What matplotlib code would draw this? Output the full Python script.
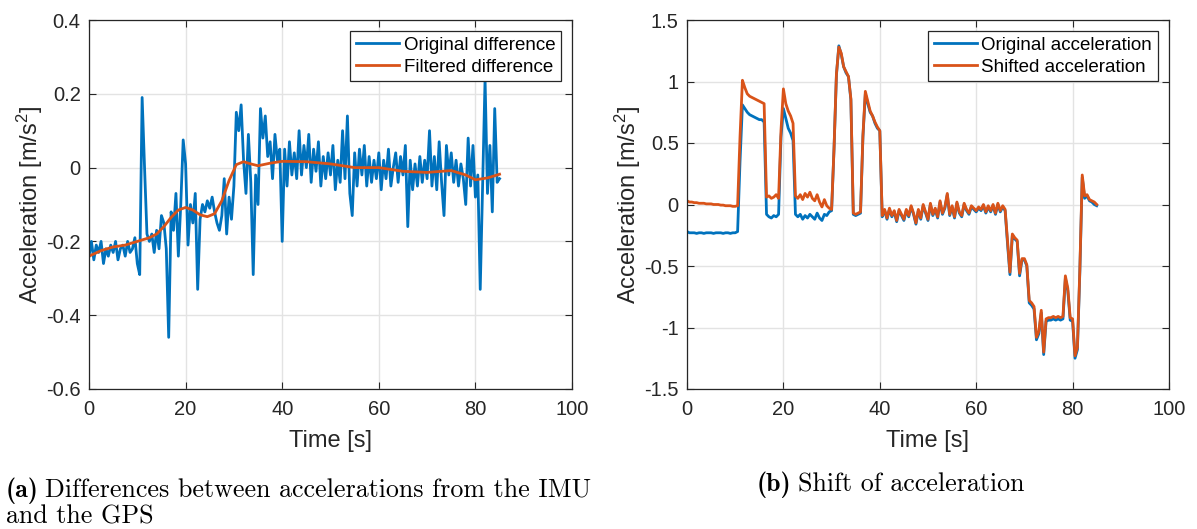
import numpy as np
import matplotlib
matplotlib.use('Agg')
import matplotlib.pyplot as plt
from matplotlib.ticker import FuncFormatter

# ── 字体 / 样式 ──
plt.rcParams['font.family'] = ['Liberation Sans', 'DejaVu Sans']
plt.rcParams['mathtext.fontset'] = 'custom'
plt.rcParams['mathtext.rm'] = 'Liberation Sans'
plt.rcParams['mathtext.default'] = 'regular'
plt.rcParams['axes.unicode_minus'] = False

BLUE = '#0072BD'
ORANGE = '#D95319'
AX_COLOR = '#262626'
GRID_COLOR = '#e3e3e3'

# ══════════════════════════════════════════════
# 数据 (a): IMU 与 GPS 加速度之差
# ══════════════════════════════════════════════
t_diff = np.arange(0, 85.01, 0.5)
diff_orig = [
    -0.24, -0.20, -0.25, -0.21, -0.23, -0.20, -0.26, -0.22, -0.24, -0.21,
    -0.23, -0.20, -0.25, -0.22, -0.21, -0.24, -0.20, -0.23, -0.22, -0.19,
    -0.26, -0.29, 0.19, 0.00, -0.18, -0.20, -0.18, -0.23, -0.17, -0.22,
    -0.13, -0.15, -0.22, -0.46, -0.12, -0.17, -0.07, -0.24, -0.10, 0.075,
    0.01, -0.21, -0.10, -0.15, -0.07, -0.33, -0.14, -0.10, -0.12, -0.09,
    -0.11, -0.08, -0.12, -0.15, -0.17, -0.13, -0.03, -0.18, -0.08, -0.14,
    -0.05, 0.15, 0.10, 0.17, 0.02, -0.07, 0.09, -0.04, -0.29, -0.02,
    -0.10, 0.16, 0.08, 0.14, 0.03, 0.07, -0.03, 0.09, 0.02, 0.05,
    -0.20, 0.05, -0.05, 0.07, -0.02, 0.04, -0.03, 0.10, -0.02, 0.06,
    0.00, 0.09, -0.04, 0.05, -0.01, 0.07, -0.05, 0.03, -0.03, 0.04,
    -0.02, 0.06, -0.06, 0.02, -0.04, 0.10, -0.03, 0.14, -0.07, -0.13,
    0.04, -0.05, 0.05, -0.02, 0.06, -0.05, 0.03, -0.04, 0.02, -0.03,
    0.04, -0.06, 0.02, -0.03, 0.05, -0.05, 0.00, 0.04, -0.04, 0.03,
    -0.02, 0.06, -0.16, 0.02, -0.06, 0.01, -0.05, 0.03, -0.04, 0.02,
    -0.03, 0.10, -0.05, 0.03, -0.06, 0.07, -0.04, -0.13, 0.06, -0.02,
    0.04, -0.04, 0.02, -0.05, 0.01, -0.03, -0.10, 0.08, -0.05, 0.06,
    -0.08, -0.02, -0.33, -0.05, 0.24, -0.07, 0.06, -0.12, 0.16, -0.04, -0.03,
]

t_filt = [0, 2.5, 5, 7.5, 10, 12.5, 14, 15.5, 17, 18.5, 20, 21.5, 23, 24.5,
          26, 27.5, 29, 30.5, 32, 33.5, 35, 37.5, 40, 45, 50, 55, 60, 65,
          70, 75, 78, 80, 82.5, 85]
diff_filt = [-0.24, -0.225, -0.215, -0.21, -0.20, -0.19, -0.18, -0.16,
             -0.135, -0.115, -0.108, -0.115, -0.128, -0.133, -0.125, -0.09,
             -0.035, 0.008, 0.016, 0.01, 0.005, 0.012, 0.017, 0.016, 0.01,
             0.0, 0.0, -0.01, -0.013, -0.008, -0.02, -0.033, -0.028, -0.018]

# ══════════════════════════════════════════════
# 数据 (b): 原始 / 平移后的加速度
# ══════════════════════════════════════════════
t_acc = np.arange(0, 85.01, 0.5)
acc_orig = [
    -0.22, -0.23, -0.23, -0.23, -0.235, -0.23, -0.23, -0.235, -0.23, -0.23,
    -0.23, -0.235, -0.23, -0.23, -0.23, -0.235, -0.23, -0.23, -0.235, -0.23,
    -0.23, -0.22, 0.35, 0.81, 0.78, 0.75, 0.73, 0.72, 0.71, 0.70,
    0.69, 0.69, 0.67, -0.08, -0.10, -0.11, -0.09, -0.10, -0.08, 0.55,
    0.78, 0.70, 0.62, 0.58, 0.52, -0.08, -0.10, -0.08, -0.12, -0.09,
    -0.11, -0.08, -0.10, -0.12, -0.07, -0.11, -0.13, -0.08, -0.09, -0.06,
    -0.05, 0.45, 1.05, 1.29, 1.22, 1.12, 1.07, 1.04, 0.85, -0.08,
    -0.09, -0.08, -0.07, 0.55, 0.90, 0.82, 0.75, 0.72, 0.66, 0.62,
    0.60, -0.10, -0.05, -0.12, -0.04, -0.10, -0.06, -0.14, -0.05, -0.09,
    -0.13, -0.05, -0.10, -0.02, -0.08, -0.16, -0.05, -0.12, -0.01, -0.07,
    -0.13, 0.00, -0.09, -0.04, -0.11, 0.02, -0.08, -0.03, 0.08, -0.09,
    -0.02, -0.11, 0.01, -0.07, -0.10, 0.00, -0.05, -0.08, -0.02, -0.04,
    -0.06, -0.03, -0.05, -0.01, -0.07, -0.02, -0.06, -0.01, -0.08, 0.00,
    -0.06, -0.02, -0.05, -0.32, -0.57, -0.25, -0.28, -0.30, -0.58, -0.45,
    -0.45, -0.50, -0.80, -0.82, -0.85, -1.10, -1.05, -0.88, -1.22, -0.95,
    -0.94, -0.94, -0.93, -0.94, -0.93, -0.94, -0.93, -0.60, -0.70, -0.94,
    -0.95, -1.25, -1.18, -0.55, 0.22, 0.05, 0.07, 0.03, 0.02, 0.00, -0.01,
]
acc_shift = [
    0.03, 0.02, 0.02, 0.015, 0.015, 0.01, 0.01, 0.01, 0.005, 0.005,
    0.005, 0.0, 0.0, 0.0, -0.005, -0.005, -0.01, -0.01, -0.01, -0.015,
    -0.015, -0.01, 0.55, 1.01, 0.95, 0.90, 0.88, 0.87, 0.86, 0.85,
    0.84, 0.83, 0.82, 0.06, 0.07, 0.05, 0.06, 0.08, 0.05, 0.60,
    0.94, 0.82, 0.76, 0.72, 0.66, 0.07, 0.05, 0.08, 0.04, 0.09,
    0.06, 0.10, 0.05, 0.03, 0.08, 0.02, -0.02, 0.04, -0.01, -0.03,
    -0.04, 0.45, 1.06, 1.28, 1.23, 1.12, 1.08, 1.04, 0.86, -0.07,
    -0.08, -0.07, -0.06, 0.56, 0.92, 0.84, 0.76, 0.72, 0.67, 0.63,
    0.60, -0.09, -0.04, -0.11, -0.03, -0.09, -0.05, -0.13, -0.04, -0.08,
    -0.12, -0.04, -0.09, -0.01, -0.07, -0.15, -0.04, -0.11, 0.00, -0.06,
    -0.12, 0.01, -0.08, -0.03, -0.10, 0.03, -0.07, -0.02, 0.09, -0.08,
    -0.01, -0.10, 0.02, -0.06, -0.09, 0.01, -0.04, -0.07, -0.01, -0.03,
    -0.05, -0.02, -0.04, 0.00, -0.06, -0.01, -0.05, 0.00, -0.07, 0.01,
    -0.05, -0.01, -0.04, -0.30, -0.55, -0.24, -0.27, -0.29, -0.56, -0.44,
    -0.44, -0.49, -0.78, -0.80, -0.83, -1.08, -1.03, -0.86, -1.20, -0.93,
    -0.92, -0.92, -0.91, -0.92, -0.91, -0.92, -0.91, -0.58, -0.68, -0.92,
    -0.93, -1.23, -1.16, -0.53, 0.24, 0.07, 0.08, 0.04, 0.03, 0.02, 0.00,
]

x_ticks = [0, 20, 40, 60, 80, 100]
y_ticks_a = [-0.6, -0.4, -0.2, 0, 0.2, 0.4]
y_ticks_b = [-1.5, -1, -0.5, 0, 0.5, 1, 1.5]

W, H = 1197, 529
fig = plt.figure(figsize=(W / 100, H / 100), dpi=100)
ax_a = fig.add_axes([89 / W, 1 - 389 / H, 483 / W, 369 / H])
ax_b = fig.add_axes([687 / W, 1 - 389 / H, 482 / W, 369 / H])

fmt = FuncFormatter(lambda v, p: f'{v:g}')


def style_axes(ax, yticks):
    ax.set_xlim(0, 100)
    ax.set_ylim(yticks[0], yticks[-1])
    ax.set_xticks(x_ticks)
    ax.set_yticks(yticks)
    ax.xaxis.set_major_formatter(fmt)
    ax.yaxis.set_major_formatter(fmt)
    ax.grid(True, color=GRID_COLOR, linewidth=1.0)
    ax.set_axisbelow(True)
    ax.tick_params(direction='in', length=5, width=0.8, top=True, right=True,
                   labelsize=14.5, colors=AX_COLOR, pad=6)
    ax.tick_params(axis='x', pad=8)
    for s in ax.spines.values():
        s.set_color(AX_COLOR)
        s.set_linewidth(0.9)
    ax.set_xlabel('Time [s]', fontsize=17, color=AX_COLOR, labelpad=8)
    ax.set_ylabel('Acceleration [m/s$^2$]', fontsize=17, color=AX_COLOR,
                  labelpad=1)


# ── (a) ──
ax_a.plot(t_diff, diff_orig, color=BLUE, lw=2.0, label='Original difference')
ax_a.plot(t_filt, diff_filt, color=ORANGE, lw=2.0, label='Filtered difference')
style_axes(ax_a, y_ticks_a)

# ── (b) ──
ax_b.plot(t_acc, acc_orig, color=BLUE, lw=2.0, label='Original acceleration')
ax_b.plot(t_acc, acc_shift, color=ORANGE, lw=2.0, label='Shifted acceleration')
style_axes(ax_b, y_ticks_b)

for ax in (ax_a, ax_b):
    leg = ax.legend(loc='upper right', fontsize=13.5, fancybox=False,
                    framealpha=1, edgecolor=AX_COLOR, borderaxespad=0.6,
                    handlelength=2.3, handletextpad=0.25, labelspacing=0.25,
                    borderpad=0.3)
    leg.get_frame().set_linewidth(0.9)

# ── 图注（粗体编号 + 正文）──
CAP_SIZE = 18.7
renderer = fig.canvas.get_renderer()


def caption(x_px, y_px, tag, body):
    t = fig.text(x_px / W, 1 - y_px / H, tag, family='cmb10',
                 fontsize=CAP_SIZE, va='baseline', ha='left')
    bb = t.get_window_extent(renderer)
    fig.text((bb.x1 + 6) / W, 1 - y_px / H, body, family='cmr10',
             fontsize=CAP_SIZE, va='baseline', ha='left')


caption(6, 497, '(a)', 'Differences between accelerations from the IMU')
fig.text(6 / W, 1 - 524 / H, 'and the GPS', family='cmr10',
         fontsize=CAP_SIZE, va='baseline', ha='left')
caption(757, 491, '(b)', 'Shift of acceleration')

plt.savefig('out.png', dpi=100)
plt.close()
